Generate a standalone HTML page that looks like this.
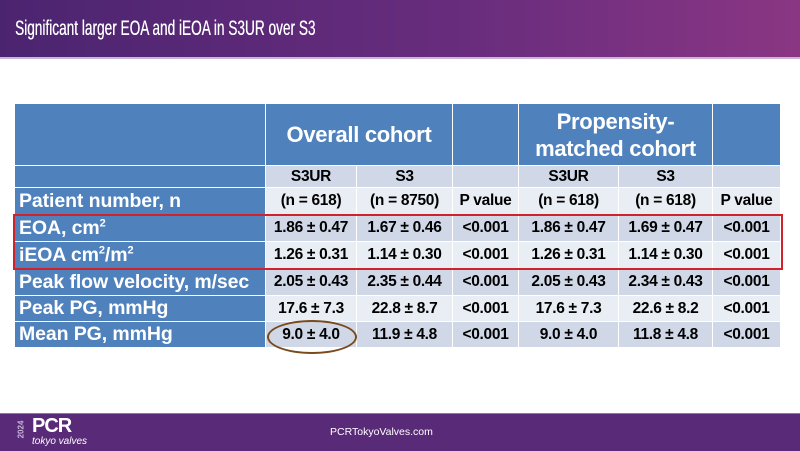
<!DOCTYPE html>
<html><head><meta charset="utf-8"><style>
body{margin:0;width:800px;height:450px;overflow:hidden;background:#fff;font-family:"Liberation Sans",sans-serif;position:relative}
#hdr{position:absolute;left:0;top:0;width:800px;height:57px;background:linear-gradient(90deg,#4b2470,#6a2d7e 60%,#8a3683);border-bottom:2px solid #c9b6d6}
#hdr h1{margin:0;position:absolute;left:15px;top:17px;font-size:21px;color:#fff;font-weight:normal;transform:scaleX(0.65);transform-origin:0 0;white-space:nowrap;text-shadow:0.3px 0 0 #fff}
#ftr{position:absolute;left:0;top:413px;width:800px;height:37px;background:#592a78;border-top:1px solid #8e76a8}
table{position:absolute;left:14px;top:103px;border-collapse:collapse;table-layout:fixed;font-weight:bold}
td{padding:0;border:1px solid #fff;text-align:center;font-size:15.5px;color:#000;white-space:nowrap;letter-spacing:-0.3px}
td.lab{background:#4f81bd;color:#fff;text-align:left;padding-left:4px;font-size:19.5px;letter-spacing:-0.1px}
tr.top td{background:#4f81bd;color:#fff;font-size:22px;height:61px;line-height:27px}
tr.a td{background:#d0d8e8}tr.b td{background:#e9edf4}
tr.a td.lab,tr.b td.lab{background:#4f81bd}
</style></head><body>
<div id="hdr"><h1>Significant larger EOA and iEOA in S3UR over S3</h1></div>
<table>
<colgroup><col style="width:251px"><col style="width:91px"><col style="width:96px"><col style="width:66px"><col style="width:100px"><col style="width:94px"><col style="width:68px"></colgroup>
<tr class="top"><td></td><td colspan="2">Overall cohort</td><td></td><td colspan="2">Propensity-<br>matched cohort</td><td></td></tr>
<tr class="a" style="height:22px"><td class="lab"></td><td>S3UR</td><td>S3</td><td></td><td>S3UR</td><td>S3</td><td></td></tr>
<tr class="b" style="height:27px"><td class="lab">Patient number, n</td><td>(n = 618)</td><td>(n = 8750)</td><td>P value</td><td>(n = 618)</td><td>(n = 618)</td><td>P value</td></tr>
<tr class="a" style="height:27px"><td class="lab">EOA, cm<sup style="font-size:11px">2</sup></td><td>1.86 ± 0.47</td><td>1.67 ± 0.46</td><td>&lt;0.001</td><td>1.86 ± 0.47</td><td>1.69 ± 0.47</td><td>&lt;0.001</td></tr>
<tr class="b" style="height:27px"><td class="lab">iEOA cm<sup style="font-size:11px">2</sup>/m<sup style="font-size:11px">2</sup></td><td>1.26 ± 0.31</td><td>1.14 ± 0.30</td><td>&lt;0.001</td><td>1.26 ± 0.31</td><td>1.14 ± 0.30</td><td>&lt;0.001</td></tr>
<tr class="a" style="height:27px"><td class="lab">Peak flow velocity, m/sec</td><td>2.05 ± 0.43</td><td>2.35 ± 0.44</td><td>&lt;0.001</td><td>2.05 ± 0.43</td><td>2.34 ± 0.43</td><td>&lt;0.001</td></tr>
<tr class="b" style="height:26px"><td class="lab">Peak PG, mmHg</td><td>17.6 ± 7.3</td><td>22.8 ± 8.7</td><td>&lt;0.001</td><td>17.6 ± 7.3</td><td>22.6 ± 8.2</td><td>&lt;0.001</td></tr>
<tr class="a" style="height:26px"><td class="lab">Mean PG, mmHg</td><td>9.0 ± 4.0</td><td>11.9 ± 4.8</td><td>&lt;0.001</td><td>9.0 ± 4.0</td><td>11.8 ± 4.8</td><td>&lt;0.001</td></tr>
</table>
<div style="position:absolute;left:13px;top:214px;width:766px;height:52px;border:2px solid #d0222a"></div>
<div style="position:absolute;left:267px;top:320px;width:86px;height:30px;border:2px solid #7a4a1e;border-radius:50%"></div>
<div id="ftr">
<div style="position:absolute;left:20px;top:3px;color:#fff">
<span style="position:absolute;left:-8px;top:8px;font-size:8px;transform:rotate(-90deg);color:#cbb8dc;font-weight:bold">2024</span>
<span style="position:absolute;left:12px;top:-2px;font-size:20px;font-weight:bold;letter-spacing:-1px">PCR</span>
<span style="position:absolute;left:12px;top:19px;font-size:10px;font-style:italic;white-space:nowrap">tokyo valves</span></div>
<div style="position:absolute;left:330px;top:12px;font-size:10.5px;color:#fff">PCRTokyoValves.com</div>
</div>
</body></html>
